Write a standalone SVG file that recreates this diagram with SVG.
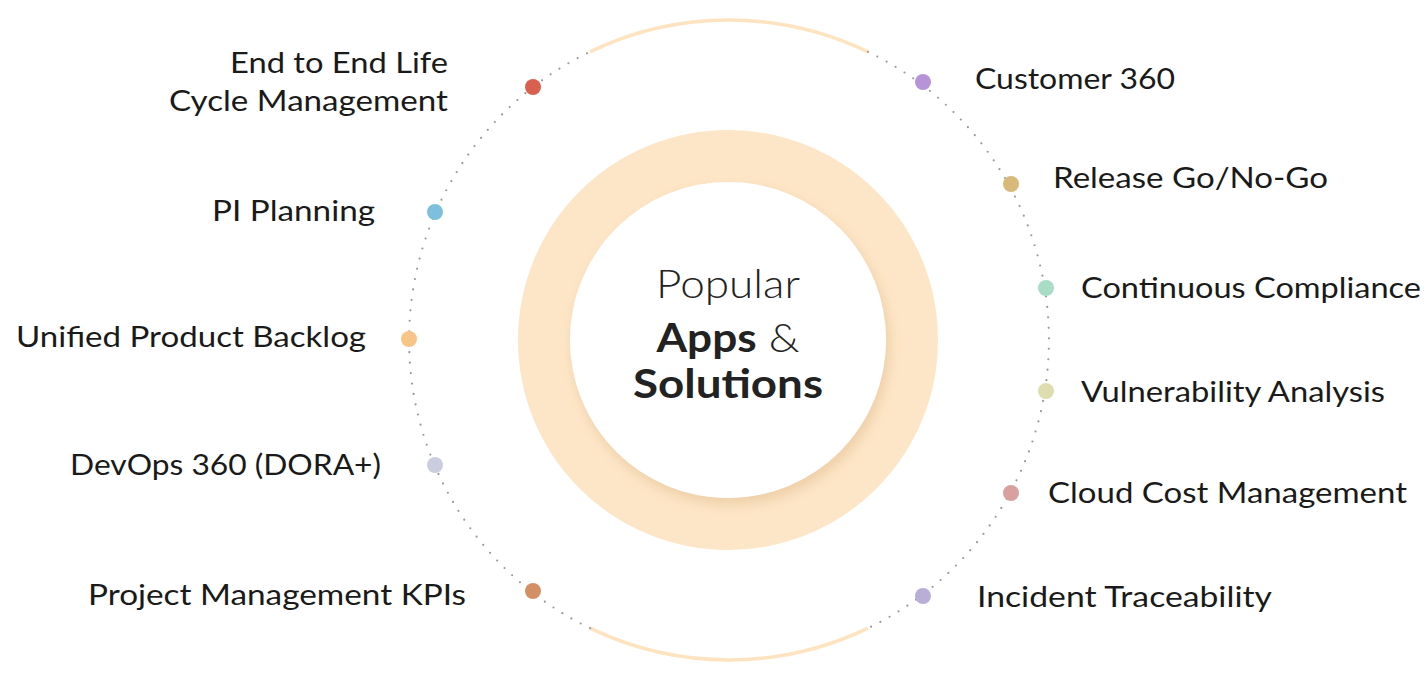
<svg xmlns="http://www.w3.org/2000/svg" width="1425" height="674" viewBox="0 0 1425 674">
<style>
.lbl{font-family:"Lato","Liberation Sans",sans-serif;font-size:28px;fill:#1a1a1a}
.r{text-anchor:end}
.dotted{fill:none;stroke:#9a9a9a;stroke-width:2.2;stroke-linecap:round;stroke-dasharray:0 10.5}
.solid{fill:none;stroke:#FDE3C0;stroke-width:3.5}
.ctr{font-family:"Lato","Liberation Sans",sans-serif;font-size:40px;fill:#222;text-anchor:middle}
</style>
<defs>
<filter id="sh" x="-30%" y="-30%" width="160%" height="160%">
<feDropShadow dx="3" dy="6" stdDeviation="7" flood-color="#D9AE7A" flood-opacity="0.45"/>
</filter>
</defs>
<rect width="1425" height="674" fill="#ffffff"/>
<g id="connectors">
<path class="solid" d="M 590 51.8 A 320 320 0 0 1 868 51.8"/>
<path class="solid" d="M 868 628.2 A 320 320 0 0 1 590 628.2"/>
<path class="dotted" d="M 868 51.8 A 320 320 0 0 1 868 628.2"/>
<path class="dotted" d="M 590 628.2 A 320 320 0 0 1 590 51.8"/>
</g>
<g id="center">
<circle cx="728" cy="340" r="184" fill="none" stroke="#FDE6C7" stroke-width="52"/>
<circle cx="728" cy="340" r="158" fill="#ffffff" filter="url(#sh)"/>
<text class="ctr" x="728" y="298" font-weight="300" textLength="144" lengthAdjust="spacingAndGlyphs">Popular</text>
<text class="ctr" x="728" y="352" textLength="143" lengthAdjust="spacingAndGlyphs"><tspan font-weight="700">Apps</tspan><tspan font-weight="300"> &amp;</tspan></text>
<text class="ctr" x="728" y="398" font-weight="700" textLength="190" lengthAdjust="spacingAndGlyphs">Solutions</text>
</g>
<g id="node-e2e">
<circle cx="533" cy="87" r="8" fill="#D9604F"/>
<text class="lbl r" x="448" y="73" textLength="218" lengthAdjust="spacingAndGlyphs">End to End Life</text>
<text class="lbl r" x="448" y="111" textLength="279" lengthAdjust="spacingAndGlyphs">Cycle Management</text>
</g>
<g id="node-pi">
<circle cx="435" cy="212" r="8" fill="#7EC0DC"/>
<text class="lbl r" x="375" y="221" textLength="163" lengthAdjust="spacingAndGlyphs">PI Planning</text>
</g>
<g id="node-upb">
<circle cx="409" cy="339" r="8" fill="#F6C587"/>
<text class="lbl r" x="366" y="347" textLength="350" lengthAdjust="spacingAndGlyphs">Unified Product Backlog</text>
</g>
<g id="node-devops">
<circle cx="435" cy="465" r="8" fill="#C9CDDD"/>
<text class="lbl r" x="381" y="475" textLength="311" lengthAdjust="spacingAndGlyphs">DevOps 360 (DORA+)</text>
</g>
<g id="node-pmk">
<circle cx="533" cy="591" r="8" fill="#D58F66"/>
<text class="lbl r" x="466" y="605" textLength="378" lengthAdjust="spacingAndGlyphs">Project Management KPIs</text>
</g>
<g id="node-c360">
<circle cx="923" cy="82" r="8" fill="#B794D8"/>
<text class="lbl" x="975" y="89" textLength="200" lengthAdjust="spacingAndGlyphs">Customer 360</text>
</g>
<g id="node-release">
<circle cx="1011" cy="184" r="8" fill="#D9B97A"/>
<text class="lbl" x="1053" y="188" textLength="275" lengthAdjust="spacingAndGlyphs">Release Go/No-Go</text>
</g>
<g id="node-compliance">
<circle cx="1046" cy="288" r="8" fill="#A8DCC4"/>
<text class="lbl" x="1081" y="298" textLength="340" lengthAdjust="spacingAndGlyphs">Continuous Compliance</text>
</g>
<g id="node-vuln">
<circle cx="1046" cy="391" r="8" fill="#DDDDB0"/>
<text class="lbl" x="1081" y="402" textLength="304" lengthAdjust="spacingAndGlyphs">Vulnerability Analysis</text>
</g>
<g id="node-cloud">
<circle cx="1011" cy="493" r="8" fill="#D9A0A0"/>
<text class="lbl" x="1048" y="503" textLength="359" lengthAdjust="spacingAndGlyphs">Cloud Cost Management</text>
</g>
<g id="node-incident">
<circle cx="923" cy="596" r="8" fill="#B8AED6"/>
<text class="lbl" x="977" y="607" textLength="295" lengthAdjust="spacingAndGlyphs">Incident Traceability</text>
</g>
</svg>
